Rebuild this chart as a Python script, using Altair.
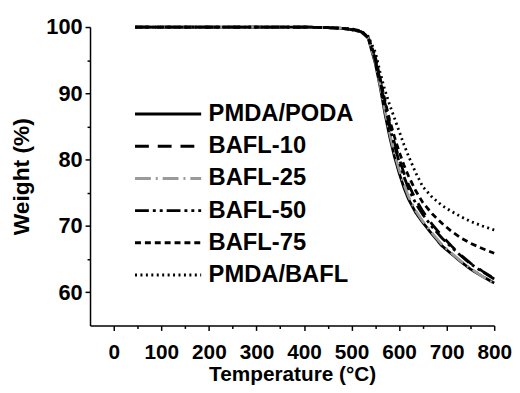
import altair as alt
import pandas as pd

temps = [45, 100, 200, 300, 400, 450, 480, 500, 520, 535, 550, 560, 570, 580, 590,
         600, 610, 620, 635, 650, 670, 690, 710, 730, 750, 775, 800]

names = ["PMDA/PODA", "BAFL-10", "BAFL-25", "BAFL-50", "BAFL-75", "PMDA/BAFL"]

pmda_poda = [100, 100, 100, 100, 100, 99.9, 99.8, 99.6, 99.3, 98.3, 94.5, 91.0, 87.0, 83.5, 80.5,
             78.0, 75.8, 74.0, 72.0, 70.5, 68.7, 67.0, 65.8, 64.6, 63.5, 62.4, 61.4]
bafl_10 = [100, 100, 100, 100, 100, 99.9, 99.8, 99.6, 99.3, 98.4, 95.2, 92.0, 88.6, 85.4, 82.6,
           80.2, 78.0, 76.2, 74.0, 72.2, 70.2, 68.5, 67.0, 65.6, 64.4, 63.2, 62.1]
bafl_25 = [100, 100, 100, 100, 100, 99.9, 99.8, 99.6, 99.3, 98.3, 94.8, 91.3, 87.5, 84.0, 81.0,
           78.5, 76.3, 74.4, 72.3, 70.7, 68.9, 67.2, 65.9, 64.7, 63.6, 62.4, 61.3]
bafl_50 = [100, 100, 100, 100, 100, 99.9, 99.8, 99.6, 99.3, 98.4, 95.0, 91.8, 88.3, 85.0, 82.2,
           79.7, 77.5, 75.6, 73.4, 71.7, 69.8, 68.2, 66.8, 65.5, 64.3, 63.1, 62.0]
bafl_75 = [100, 100, 100, 100, 100, 99.9, 99.8, 99.7, 99.4, 98.5, 95.5, 92.3, 89.0, 86.0, 83.5,
           81.2, 79.2, 77.5, 75.3, 73.5, 71.8, 70.4, 69.2, 68.2, 67.4, 66.6, 65.9]
pmda_bafl = [100, 100, 100, 100, 100, 99.9, 99.8, 99.7, 99.4, 98.6, 96.2, 93.2, 90.5, 88.3, 86.3,
             84.3, 82.3, 80.5, 78.0, 75.9, 74.3, 73.1, 72.2, 71.4, 70.7, 70.0, 69.4]

series = [pmda_poda, bafl_10, bafl_25, bafl_50, bafl_75, pmda_bafl]
colors = ["#000000", "#000000", "#9a9a9a", "#000000", "#000000", "#000000"]
dashes = [[1, 0], [14, 9], [16, 5, 2, 5], [14, 4, 3, 4, 3, 4], [6, 4], [2, 3.5]]

rows = []
for name, vals in zip(names, series):
    for t, w in zip(temps, vals):
        rows.append({"T": t, "W": w, "S": name})
df = pd.DataFrame(rows)

FONT = "Liberation Sans"

legend = alt.Legend(
    title=None, orient="none", legendX=67, legendY=76,
    symbolType="M-4,0H4", symbolSize=280, symbolStrokeWidth=3,
    labelFont=FONT, labelFontSize=24, labelFontWeight="bold", labelColor="black",
    labelOffset=29, rowPadding=8.6,
)

chart = alt.Chart(df).mark_line(strokeWidth=2.8).encode(
    x=alt.X("T:Q", title="Temperature (°C)",
            scale=alt.Scale(domain=[-50, 800], nice=False, zero=False),
            axis=alt.Axis(values=list(range(0, 801, 50)),
                          labelExpr="datum.value % 100 === 0 ? datum.label : ''",
                          labelOverlap=False, labelFlush=False,
                          tickSize={"condition": {"test": "datum.value % 100 === 0", "value": 5}, "value": 3},
                          labelFontSize=21, titleFontSize=21, titlePadding=2, labelPadding=11)),
    y=alt.Y("W:Q", title="Weight (%)",
            scale=alt.Scale(domain=[55, 100], nice=False, zero=False),
            axis=alt.Axis(values=list(range(60, 101, 5)),
                          labelExpr="datum.value % 10 === 0 ? datum.label : ''",
                          labelOverlap=False,
                          tickSize={"condition": {"test": "datum.value % 10 === 0", "value": 5}, "value": 3},
                          labelFontSize=22, titleFontSize=23, titlePadding=13, labelPadding=3)),
    color=alt.Color("S:N", scale=alt.Scale(domain=names, range=colors), legend=legend),
    strokeDash=alt.StrokeDash("S:N", scale=alt.Scale(domain=names, range=dashes), legend=legend),
).properties(
    width=409, height=302,
    autosize=alt.AutoSizeParams(type="none"),
    padding={"left": 83, "top": 17, "right": 18, "bottom": 58},
).configure_axis(
    labelFont=FONT, titleFont=FONT, labelFontWeight="bold", titleFontWeight="bold",
    labelColor="black", titleColor="black", domainColor="black", tickColor="black",
    domainWidth=1.5, tickWidth=1.5, grid=False,
).configure_view(stroke=None)

chart.save("out.html", embed_options={"renderer": "svg", "actions": False})
